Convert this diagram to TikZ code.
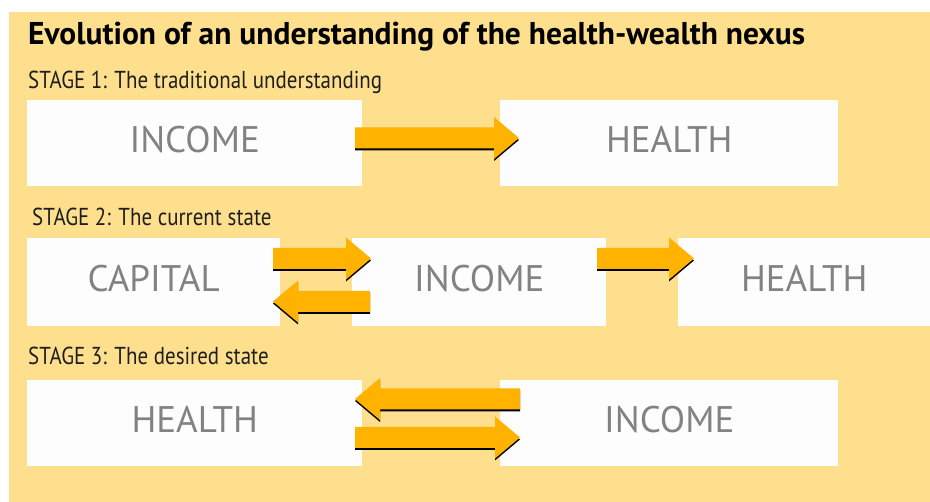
\documentclass[tikz,border=0pt]{standalone}
\usepackage{fontspec}
\setmainfont{PT Sans}
\newfontfamily\titlefont{PT Sans}
\newfontfamily\stagefont{PT Sans}[FakeStretch=0.856]
\usetikzlibrary{calc}
\definecolor{bg}{HTML}{FEDF8E}
\definecolor{arr}{HTML}{FFB200}
\definecolor{boxtxt}{HTML}{828282}
\definecolor{boxfill}{HTML}{FDFDFD}
\definecolor{stagetxt}{HTML}{1E1E1E}
\tikzset{
  box/.style={fill=boxfill, draw=none, inner sep=0pt, anchor=north west,
    text=boxtxt, font=\fontsize{37}{37}\selectfont, text height=24pt, text depth=5pt},
  titletext/.style={anchor=base west, inner sep=0pt, text=black,
    font=\titlefont\bfseries\fontsize{31.5}{33}\selectfont},
  stagetext/.style={anchor=base west, inner sep=0pt, text=stagetxt,
    font=\stagefont\fontsize{24.5}{26}\selectfont},
  arrowfill/.style={fill=arr},
  arrowshadow/.style={fill=black}
}
\newcommand\arrowpath[2]{%
  ($(#1)!10.5pt!90:(#2)$) -- ($(hb)!10.5pt!-90:(#1)$) -- ($(hb)!21pt!-90:(#1)$) --
  (#2) -- ($(hb)!21pt!90:(#1)$) -- ($(hb)!10.5pt!90:(#1)$) -- ($(#1)!10.5pt!-90:(#2)$) -- cycle}
\newcommand\blockarrow[2]{%
  \coordinate (hb) at ($(#2)!25pt!(#1)$);
  \begin{scope}[transform canvas={yshift=-2pt}]
    \fill[arrowshadow] \arrowpath{#1}{#2};
  \end{scope}
  \fill[arrowfill] \arrowpath{#1}{#2};
}
\begin{document}
\begin{tikzpicture}[x=1pt,y=-1pt]
\useasboundingbox (0,0) rectangle (930,502);
\fill[bg] (9,12) rectangle (930,502);

\node[titletext] (title) at (28,45) {Evolution of an understanding of the health-wealth nexus};

% Stage 1
\node[stagetext] (st1) at (28,89) {STAGE 1: The traditional understanding};
\node[box, minimum width=335pt, minimum height=86pt] (s1inc) at (27,100) {INCOME};
\node[box, minimum width=338pt, minimum height=86pt] (s1hea) at (500,100) {HEALTH};

% Stage 2
\node[stagetext] (st2) at (32,226) {STAGE 2: The current state};
\node[box, minimum width=253pt, minimum height=88pt] (s2cap) at (27,238) {CAPITAL};
\node[box, minimum width=254pt, minimum height=88pt] (s2inc) at (352,238) {INCOME};
\node[box, minimum width=252pt, minimum height=88pt] (s2hea) at (678,238) {HEALTH};

% Stage 3
\node[stagetext] (st3) at (28,365) {STAGE 3: The desired state};
\node[box, minimum width=335pt, minimum height=86pt] (s3hea) at (27,380) {HEALTH};
\node[box, minimum width=338pt, minimum height=86pt] (s3inc) at (500,380) {INCOME};

% arrow end points
\coordinate (a1s) at (355,138);   \coordinate (a1e) at (519,138);
\coordinate (a2s) at (273,258.5); \coordinate (a2e) at (371,258.5);
\coordinate (a3s) at (370,301.5); \coordinate (a3e) at (273,301.5);
\coordinate (a4s) at (597,258.5); \coordinate (a4e) at (694,258.5);
\coordinate (a5s) at (520,399);   \coordinate (a5e) at (355,399);
\coordinate (a6s) at (355,437.5); \coordinate (a6e) at (520,437.5);

\blockarrow{a1s}{a1e}
\blockarrow{a2s}{a2e}
\blockarrow{a3s}{a3e}
\blockarrow{a4s}{a4e}
\blockarrow{a5s}{a5e}
\blockarrow{a6s}{a6e}
\end{tikzpicture}
\end{document}
